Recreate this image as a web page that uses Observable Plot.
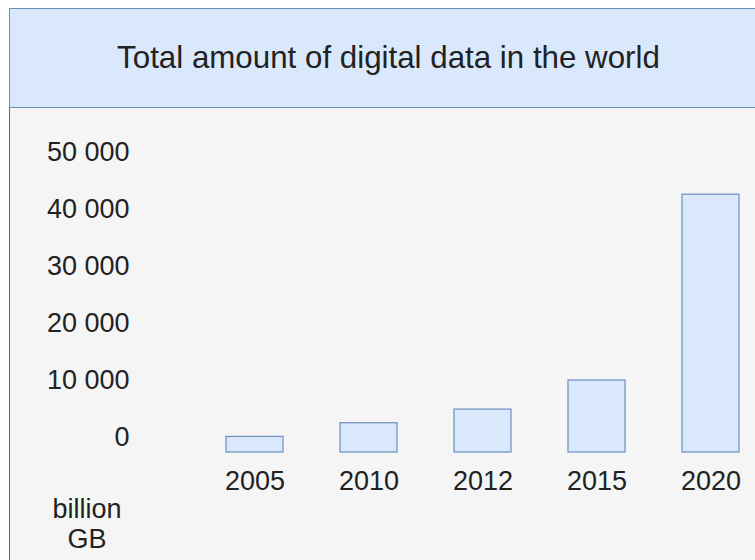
<!DOCTYPE html>
<html>
<head>
<meta charset="utf-8">
<script src="https://cdn.jsdelivr.net/npm/d3@7"></script>
<script src="https://cdn.jsdelivr.net/npm/@observablehq/plot@0.6"></script>
<style>
  html, body { margin: 0; padding: 0; background: #ffffff; width: 755px; height: 560px; overflow: hidden; }
  #wrap { position: relative; width: 755px; height: 560px; overflow: hidden;
          font-family: "Liberation Sans", Arial, Helvetica, sans-serif; }
  #title { position: absolute; left: 9px; top: 8px; width: 759px; height: 100px; box-sizing: border-box;
           background: #dae8fc; border: 1px solid #6c8ebf; display: flex; align-items: center;
           justify-content: center; font-size: 31.3px; color: #222222; white-space: nowrap; }
  #panel { position: absolute; left: 9px; top: 108px; width: 759px; height: 470px; box-sizing: border-box;
           background: #f5f5f5; border: 1px solid #666666; border-top: none; }
  #chart { position: absolute; left: 0; top: 108px; }
  #unit { position: absolute; left: 37px; width: 100px; top: 494px; text-align: center;
          font-size: 27px; line-height: 30px; color: #222222; }
</style>
</head>
<body>
<div id="wrap">
  <div id="panel"></div>
  <div id="title"></div>
  <div id="chart"></div>
  <div id="unit"></div>
</div>
<script>
const titleText = "Total amount of digital data in the world";
const years = ["2005", "2010", "2012", "2015", "2020"];
const values = [100, 2500, 4900, 10000, 42600];
const yTicks = [0, 10000, 20000, 30000, 40000, 50000];
const unitLines = ["billion", "GB"];

document.getElementById("title").textContent = titleText;
document.getElementById("unit").innerHTML = unitLines.join("<br>");

const data = years.map((year, i) => ({year, value: values[i]}));
const fmt = d3.formatLocale({decimal: ".", thousands: " ", grouping: [3], currency: ["", ""]}).format(",d");

const chart = Plot.plot({
  width: 755,
  height: 452,
  marginLeft: 196,
  marginRight: 0,
  marginTop: 44,
  marginBottom: 108,
  style: {background: "transparent", fontSize: "27px",
          fontFamily: "'Liberation Sans', Arial, Helvetica, sans-serif", color: "#222222", overflow: "visible"},
  x: {type: "band", domain: years, range: [196, 768], paddingInner: 0.5, paddingOuter: 0.25, axis: null, label: null},
  y: {domain: [0, 50000], range: [329, 44], axis: null, label: null},
  marks: [
    Plot.barY(data, {x: "year", y: "value", fill: "#dae8fc", stroke: "#6c8ebf", strokeWidth: 1.2, insetBottom: -15}),
    Plot.axisY(yTicks, {anchor: "left", tickSize: 0, tickPadding: 67, tickFormat: fmt, fill: "#222222", label: null}),
    Plot.axisX(years, {anchor: "bottom", tickSize: 0, tickPadding: 18, fill: "#222222", label: null})
  ]
});
document.getElementById("chart").appendChild(chart);
</script>
</body>
</html>
